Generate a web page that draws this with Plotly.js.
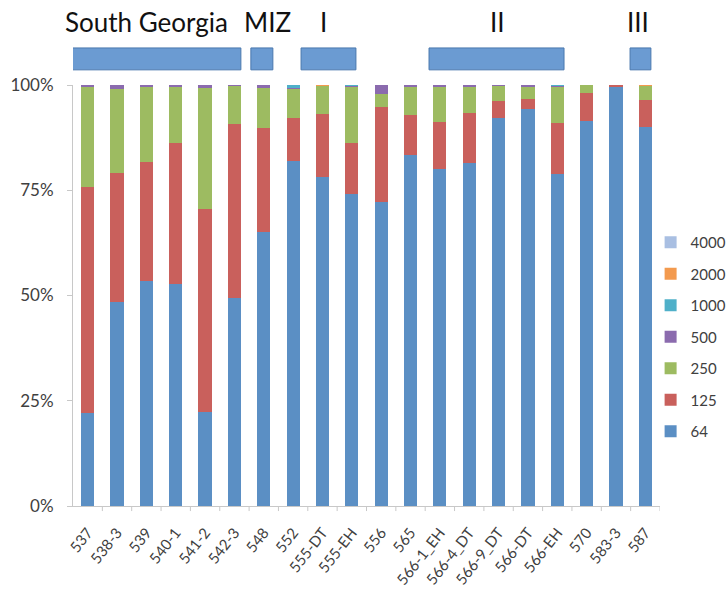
<!DOCTYPE html>
<html>
<head>
<meta charset="utf-8">
<script src="https://cdn.plot.ly/plotly-3.0.1.min.js"></script>
<style>
  html, body { margin: 0; padding: 0; background: #ffffff; }
  #chart { width: 728px; height: 594px; }
</style>
</head>
<body>
<div id="chart"></div>
<script>
// Stations / samples along the transect
const stations = ["537", "538-3", "539", "540-1", "541-2", "542-3", "548", "552",
  "555-DT", "555-EH", "556", "565", "566-1_EH", "566-4_DT", "566-9_DT",
  "566-DT", "566-EH", "570", "583-3", "587"];

// Share (%) of each size class per station
const s64   = [22.0, 48.5, 53.4, 52.7, 22.3, 49.4, 65.0, 82.0, 78.1, 74.1, 72.3, 83.4, 80.0, 81.5, 92.1, 94.3, 78.8, 91.4, 99.5, 90.1];
const s125  = [53.8, 30.5, 28.3, 33.5, 48.2, 41.4, 24.8, 10.2, 15.1, 12.1, 22.5, 9.5, 11.1, 11.9, 4.0, 2.4, 12.2, 6.7, 0.5, 6.4];
const s250  = [23.7, 20.0, 17.8, 13.3, 28.7, 9.0, 9.5, 6.8, 6.5, 13.4, 3.0, 6.7, 8.5, 6.2, 3.7, 2.9, 8.5, 1.9, 0, 3.3];
const s500  = [0.5, 1.0, 0.5, 0.5, 0.8, 0.2, 0.7, 0.4, 0, 0.2, 2.2, 0.4, 0.4, 0.4, 0.2, 0.4, 0.3, 0, 0, 0];
const s1000 = [0, 0, 0, 0, 0, 0, 0, 0.6, 0, 0.2, 0, 0, 0, 0, 0, 0, 0.2, 0, 0, 0];
const s2000 = [0, 0, 0, 0, 0, 0, 0, 0, 0.3, 0, 0, 0, 0, 0, 0, 0, 0, 0, 0, 0.2];
const s4000 = [0, 0, 0, 0, 0, 0, 0, 0, 0, 0, 0, 0, 0, 0, 0, 0, 0, 0, 0, 0];

const classNames = ["64", "125", "250", "500", "1000", "2000", "4000"];
const classValues = [s64, s125, s250, s500, s1000, s2000, s4000];
const classColors = ["#5B8FC4", "#C9605C", "#9DBB61", "#8B6BAE", "#4FB0C9", "#F39A4E", "#A9BFE2"];

// Y axis ticks
const yTickVals = [0, 25, 50, 75, 100];
const yTickText = ["0%", "25%", "50%", "75%", "100%"];

// Region groups shown as labelled bars above the plot (category index span)
const regionNames = ["South Georgia", "MIZ", "I", "II", "III"];
const regionStart = [-0.81, 5.56, 7.27, 11.63, 18.48];
const regionEnd   = [5.22, 6.31, 9.14, 16.23, 19.19];
const regionLabelX = [2.02, 6.14, 8.02, 13.95, 18.75];

const FONT = "Lato, 'Open Sans', sans-serif";
const TXT = "#404040";

const traces = classNames.map((name, k) => ({
  type: "bar",
  name: name,
  x: stations.map((_, i) => i),
  y: classValues[k],
  marker: { color: classColors[k], line: { width: 0 } },
  legendgroup: "g" + name,
  legendrank: 100 * (classNames.length - k),
  hoverinfo: "name+y"
}));

const shapes = regionNames.map((_, r) => ({
  type: "rect",
  xref: "x", yref: "paper",
  x0: regionStart[r], x1: regionEnd[r],
  y0: 1.036, y1: 1.088,
  fillcolor: "#6B9BD2",
  line: { color: "#4A78AE", width: 1 },
  layer: "above"
}));

const annotations = regionNames.map((name, r) => ({
  text: name,
  xref: "x", yref: "paper",
  x: regionLabelX[r], y: 1.15,
  xanchor: "center", yanchor: "middle",
  showarrow: false,
  font: { family: FONT, size: 26, color: "#111111" }
}));

const layout = {
  width: 728,
  height: 594,
  margin: { l: 73, r: 68, t: 85, b: 88, pad: 0, autoexpand: false },
  paper_bgcolor: "#ffffff",
  plot_bgcolor: "#ffffff",
  barmode: "stack",
  bargap: 0.55,
  showlegend: true,
  legend: {
    x: 0.984, y: 0.665,
    xanchor: "left", yanchor: "top",
    traceorder: "grouped",
    tracegroupgap: 9,
    bgcolor: "rgba(0,0,0,0)",
    font: { family: FONT, size: 15, color: TXT },
    itemwidth: 30
  },
  xaxis: {
    type: "linear",
    range: [-0.5, stations.length - 0.5],
    tickvals: stations.map((_, i) => i),
    ticktext: stations,
    tickangle: -52,
    tickfont: { family: FONT, size: 15, color: TXT },
    ticklabelstandoff: 11,
    showline: true,
    linecolor: "#C8C8C8",
    linewidth: 1,
    ticks: "",
    showgrid: false,
    zeroline: false,
    fixedrange: true
  },
  yaxis: {
    range: [0, 100],
    tickmode: "array",
    tickvals: yTickVals,
    ticktext: yTickText,
    tickfont: { family: FONT, size: 17, color: TXT },
    showline: true,
    linecolor: "#C8C8C8",
    linewidth: 1,
    ticks: "outside",
    ticklen: 5,
    tickcolor: "#C8C8C8",
    ticklabelstandoff: 10,
    showgrid: false,
    zeroline: false,
    fixedrange: true
  },
  shapes: shapes.concat(
    // category boundary tick marks along the x axis
    stations.map((_, i) => ({
      type: "line", xref: "x", yref: "paper",
      x0: i + 0.5, x1: i + 0.5, y0: 0, y1: -0.012,
      line: { color: "#C8C8C8", width: 1 }
    }))
  ),
  annotations: annotations
};

Plotly.newPlot("chart", traces, layout, { displayModeBar: false, staticPlot: true });
</script>
</body>
</html>
